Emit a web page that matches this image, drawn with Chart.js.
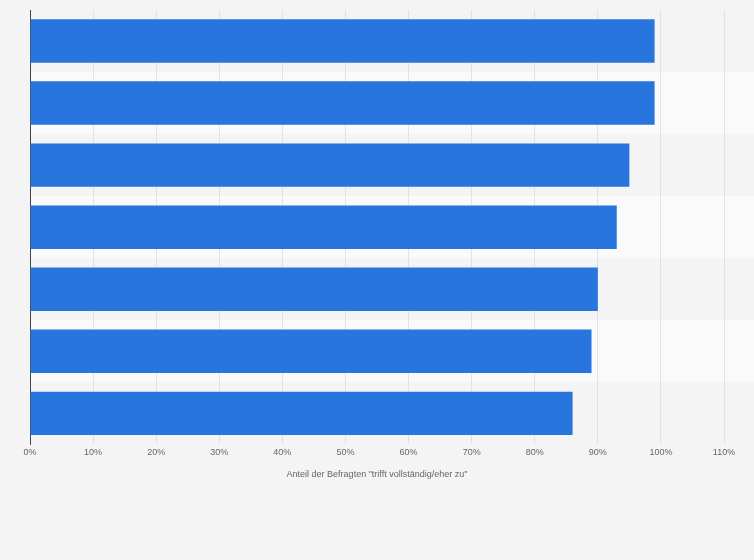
<!DOCTYPE html>
<html lang="de">
<head>
  <meta charset="utf-8" />
  <title>Chart</title>
  <style>
body { margin: 0; background: #f4f4f4; }
#chartContainer { width: 754px; height: 560px; }
  </style>
</head>
<body>
  <div id="chartContainer">
    <canvas id="myChart"></canvas>
  </div>
  <script src="https://cdn.jsdelivr.net/npm/chart.js"></script>
  <script>
const categories = ['A', 'B', 'C', 'D', 'E', 'F', 'G'];
const values = [99, 99, 95, 93, 90, 89, 86];
const axisTitle = 'Anteil der Befragten "trifft vollständig/eher zu"';

// abwechselnde Zeilenstreifen hinter den Balken
const bands = {
  id: 'bands',
  beforeDraw(chart) {
    const {ctx, chartArea, scales} = chart;
    const y = scales.y;
    const step = (chartArea.bottom - chartArea.top) / categories.length;
    ctx.save();
    categories.forEach((c, i) => {
      ctx.fillStyle = i % 2 ? '#fafafa' : '#f4f4f4';
      ctx.fillRect(chartArea.left, y.getPixelForValue(i) - step / 2, chart.width - chartArea.left, step);
    });
    ctx.restore();
  }
};

new Chart(document.getElementById('myChart'), {
  type: 'bar',
  data: {
    labels: categories,
    datasets: [{
      data: values,
      backgroundColor: '#2876dd',
      barPercentage: 0.7,
      categoryPercentage: 1
    }]
  },
  options: {
    indexAxis: 'y',
    responsive: true,
    maintainAspectRatio: false,
    animation: false,
    layout: { padding: { top: 10, right: 30, bottom: 76, left: 0 } },
    plugins: { legend: { display: false }, tooltip: { enabled: false } },
    scales: {
      x: {
        min: 0, max: 110,
        ticks: { stepSize: 10, color: '#666', font: { family: 'Arial, Liberation Sans', size: 9 },
                 callback: v => v + '%' },
        grid: { color: '#e2e2e2', drawTicks: false },
        border: { display: false },
        title: { display: true, text: axisTitle, color: '#666', font: { family: 'Arial, Liberation Sans', size: 9 }, padding: { top: 8 } }
      },
      y: {
        ticks: { display: false },
        grid: { display: false },
        border: { color: '#444', width: 1 },
        afterFit(s) { s.width = 30; }
      }
    }
  },
  plugins: [bands]
});
  </script>
</body>
</html>
